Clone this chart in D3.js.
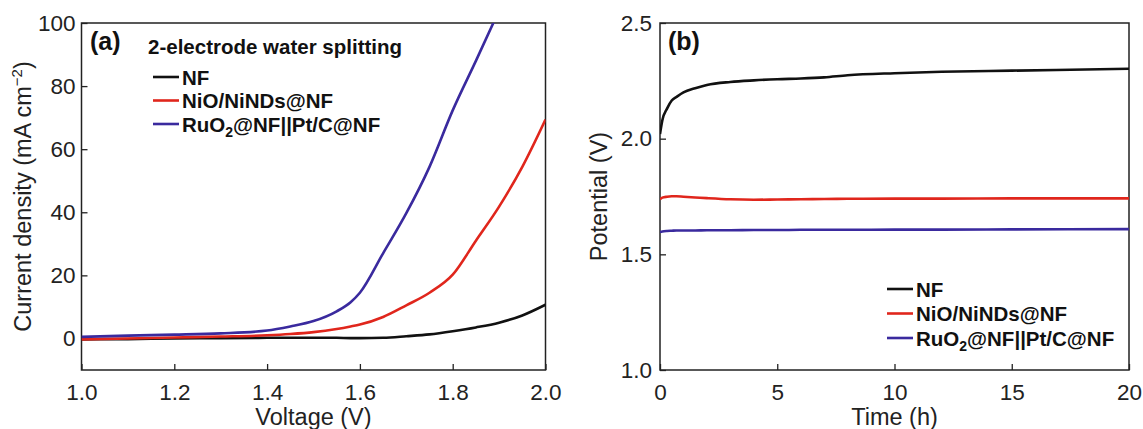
<!DOCTYPE html>
<html>
<head>
<meta charset="utf-8">
<script src="https://cdn.jsdelivr.net/npm/d3@7"></script>
<style>
  body { margin: 0; background: #fff; }
  svg { display: block; font-family: "Liberation Sans", Arial, sans-serif; }
  .tick text { font-size: 22.5px; fill: #222; }
  .lbl { font-size: 23.5px; fill: #222; }
  .bold { font-weight: bold; fill: #111; }
</style>
</head>
<body>
<svg width="1143" height="429"></svg>
<script>
// panel (a): LSV curves, voltage (V) vs current density (mA cm-2)
const voltage = [1.0, 1.1, 1.2, 1.3, 1.4, 1.45, 1.5, 1.55, 1.58, 1.6, 1.65, 1.7, 1.75, 1.8, 1.85, 1.9, 1.95, 2.0];
const jNF   = [-0.3, -0.2, 0, 0.1, 0.2, 0.2, 0.2, 0.2, 0.1, 0.1, 0.2, 0.7, 1.3, 2.3, 3.5, 5.0, 7.3, 10.7];
const jNiO  = [-0.3, 0, 0.3, 0.6, 1.0, 1.4, 2.0, 3.0, 3.8, 4.4, 6.8, 10.5, 14.5, 20.2, 31, 41.8, 54.4, 69.4];
const jRuO2 = [0.5, 0.9, 1.2, 1.6, 2.5, 3.8, 5.5, 8.6, 11.5, 14.5, 27, 39.7, 54.4, 72.3, 88, 104, null, null];

// panel (b): stability, time (h) vs potential (V)
const time   = [0, 0.1, 0.3, 0.5, 0.7, 1, 1.5, 2, 3, 4, 5, 6, 7, 8, 10, 12, 15, 20];
const vNF    = [2.02, 2.08, 2.13, 2.165, 2.18, 2.2, 2.218, 2.232, 2.245, 2.252, 2.257, 2.26, 2.265, 2.274, 2.283, 2.289, 2.294, 2.302];
const vNiO   = [1.738, 1.745, 1.749, 1.751, 1.751, 1.749, 1.746, 1.743, 1.738, 1.736, 1.737, 1.738, 1.739, 1.740, 1.741, 1.741, 1.742, 1.742];
const vRuO2  = [1.597, 1.599, 1.601, 1.602, 1.603, 1.603, 1.603, 1.604, 1.604, 1.605, 1.605, 1.606, 1.606, 1.606, 1.607, 1.607, 1.608, 1.609];

const seriesNames = ["NF", "NiO/NiNDs@NF", "RuO2@NF||Pt/C@NF"];
const colors = ["#111111", "#e0261c", "#3a2a9e"];

const svg = d3.select("svg");

function panel(opt) {
  const g = svg.append("g");
  const x = d3.scaleLinear().domain(opt.xDomain).range([opt.left, opt.right]);
  const y = d3.scaleLinear().domain(opt.yDomain).range([opt.bottom, opt.top]);

  const clipId = "clip-" + opt.name;
  g.append("clipPath").attr("id", clipId)
    .append("rect")
    .attr("x", opt.left).attr("y", opt.top)
    .attr("width", opt.right - opt.left).attr("height", opt.bottom - opt.top);

  // axes, ticks pointing inward
  const xa = g.append("g").attr("transform", `translate(0,${opt.bottom})`)
    .call(d3.axisBottom(x).tickValues(opt.xTicks).tickFormat(opt.xFmt).tickSizeInner(-6).tickSizeOuter(0).tickPadding(14));
  const ya = g.append("g").attr("transform", `translate(${opt.left},0)`)
    .call(d3.axisLeft(y).tickValues(opt.yTicks).tickFormat(opt.yFmt).tickSizeInner(-6).tickSizeOuter(0).tickPadding(opt.yPad));
  [xa, ya].forEach(a => {
    a.select(".domain").remove();
    a.selectAll(".tick line").attr("stroke", "#222").attr("stroke-width", 1.3);
  });
  xa.selectAll(".tick text").attr("dy", "0.71em");

  g.append("rect")
    .attr("x", opt.left).attr("y", opt.top)
    .attr("width", opt.right - opt.left).attr("height", opt.bottom - opt.top)
    .attr("fill", "none").attr("stroke", "#222").attr("stroke-width", 1.5);

  const line = d3.line()
    .defined(d => d[1] != null)
    .x(d => x(d[0])).y(d => y(d[1]))
    .curve(d3.curveMonotoneX);

  opt.series.forEach((s, i) => {
    g.append("path")
      .datum(opt.xs.map((v, k) => [v, s[k]]))
      .attr("clip-path", `url(#${clipId})`)
      .attr("fill", "none")
      .attr("stroke", colors[i])
      .attr("stroke-width", 2.6)
      .attr("d", line);
  });

  // axis titles
  g.append("text").attr("class", "lbl")
    .attr("x", (opt.left + opt.right) / 2).attr("y", 425)
    .attr("text-anchor", "middle").text(opt.xTitle);
  const yt = g.append("text").attr("class", "lbl")
    .attr("transform", `translate(${opt.yTitleX},${(opt.top + opt.bottom) / 2}) rotate(-90)`)
    .attr("text-anchor", "middle");
  opt.yTitle(yt);

  // panel letter
  g.append("text").attr("class", "bold")
    .attr("x", opt.letterX).attr("y", 50)
    .style("font-size", "25px").text(opt.letter);

  // legend
  const lg = g.append("g");
  if (opt.legendTitle) {
    lg.append("text").attr("class", "bold").style("font-size", "20.5px")
      .attr("x", opt.legX - 5).attr("y", opt.legY - 23).text(opt.legendTitle);
  }
  seriesNames.forEach((n, i) => {
    const yy = opt.legY + i * opt.legStep;
    lg.append("line")
      .attr("x1", opt.legX).attr("x2", opt.legX + 26)
      .attr("y1", yy).attr("y2", yy)
      .attr("stroke", colors[i]).attr("stroke-width", 2.6);
    const t = lg.append("text").attr("class", "bold").style("font-size", "20.5px")
      .attr("x", opt.legX + 29).attr("y", yy + 7.5);
    if (n.startsWith("RuO2")) {
      t.append("tspan").text("RuO");
      t.append("tspan").attr("font-size", "14px").attr("dy", 5).text("2");
      t.append("tspan").attr("dy", -5).text("@NF||Pt/C@NF");
    } else {
      t.text(n);
    }
  });
}

panel({
  name: "a", letter: "(a)", letterX: 90,
  left: 81.5, right: 545.5, top: 23, bottom: 370,
  xDomain: [1.0, 2.0], yDomain: [-10, 100],
  xTicks: [1.0, 1.2, 1.4, 1.6, 1.8, 2.0], yTicks: [0, 20, 40, 60, 80, 100],
  xFmt: d3.format(".1f"), yFmt: d3.format("d"), yPad: 6,
  xs: voltage, series: [jNF, jNiO, jRuO2],
  xTitle: "Voltage (V)", yTitleX: 31,
  yTitle: t => {
    t.append("tspan").text("Current density (mA cm");
    t.append("tspan").attr("font-size", "15px").attr("dy", -9).text("\u22122");
    t.append("tspan").attr("dy", 9).text(")");
  },
  legendTitle: "2-electrode water splitting",
  legX: 153, legY: 77, legStep: 23.5
});

panel({
  name: "b", letter: "(b)", letterX: 668,
  left: 660, right: 1129, top: 23, bottom: 370,
  xDomain: [0, 20], yDomain: [1.0, 2.5],
  xTicks: [0, 5, 10, 15, 20], yTicks: [1.0, 1.5, 2.0, 2.5],
  xFmt: d3.format("d"), yFmt: d3.format(".1f"), yPad: 8,
  xs: time, series: [vNF, vNiO, vRuO2],
  xTitle: "Time (h)", yTitleX: 607,
  yTitle: t => t.text("Potential (V)"),
  legendTitle: null,
  legX: 887, legY: 289, legStep: 24.5
});
</script>
</body>
</html>
